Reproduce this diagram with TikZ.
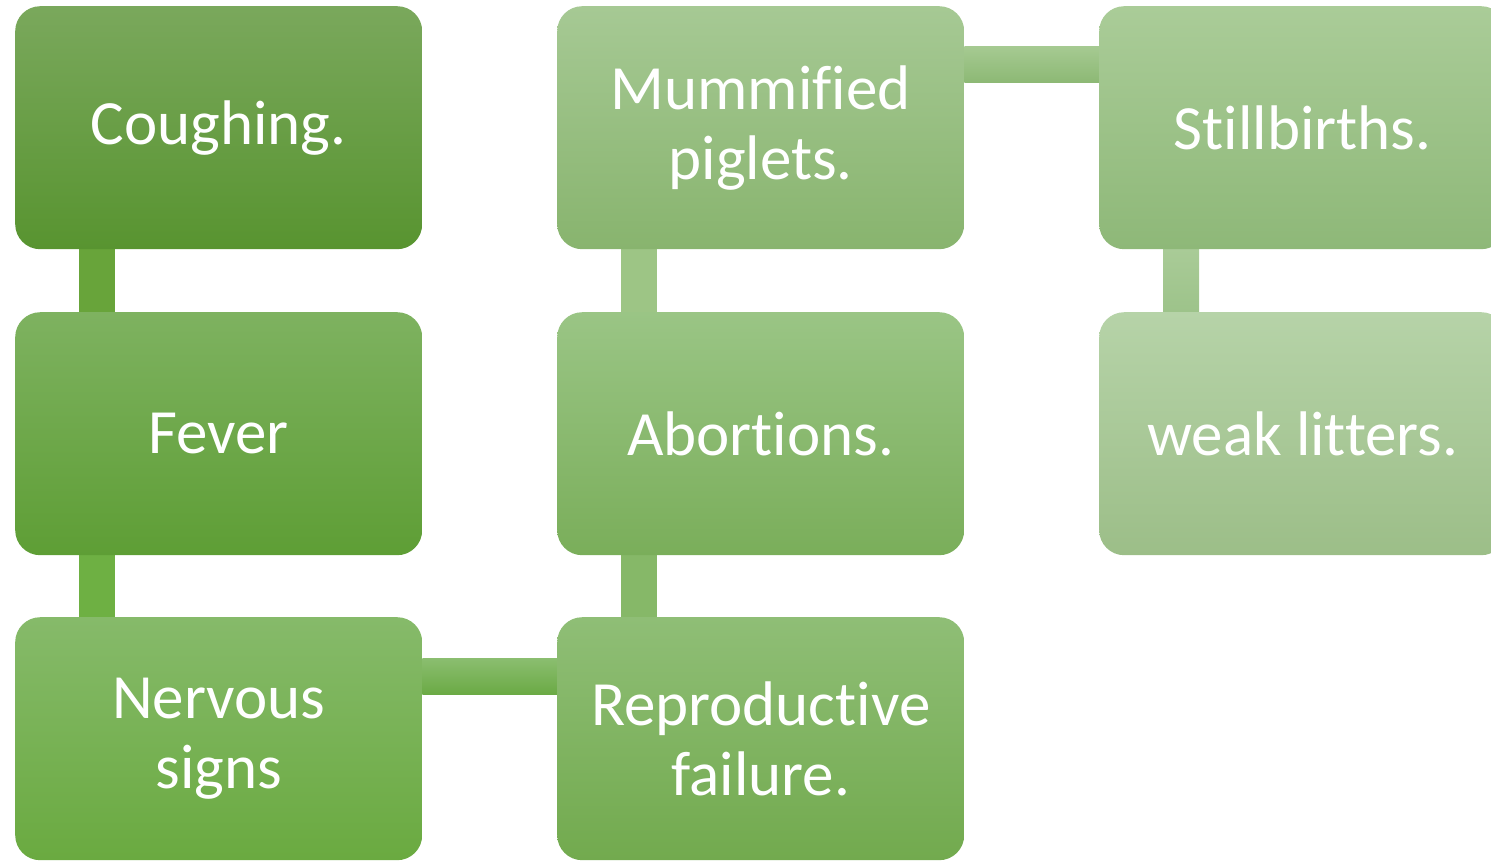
\documentclass[tikz,border=0pt]{standalone}
\usepackage{fontspec}
\setmainfont{Carlito}[Ligatures={NoCommon}]
\usetikzlibrary{backgrounds}
\definecolor{cAt}{HTML}{7AA85C}\definecolor{cAb}{HTML}{589430}
\definecolor{cBt}{HTML}{7EB260}\definecolor{cBb}{HTML}{5E9E35}
\definecolor{cCt}{HTML}{86BA6A}\definecolor{cCb}{HTML}{6AAA40}
\definecolor{rAt}{HTML}{8FBE76}\definecolor{rAb}{HTML}{72AA4E}
\definecolor{rBt}{HTML}{9AC585}\definecolor{rBb}{HTML}{7AAE5A}
\definecolor{rCt}{HTML}{A6C994}\definecolor{rCb}{HTML}{88B46E}
\definecolor{sAt}{HTML}{AACC98}\definecolor{sAb}{HTML}{8EB878}
\definecolor{sBt}{HTML}{B6D3A8}\definecolor{sBb}{HTML}{9CBE88}
\definecolor{lA}{HTML}{68A43A}\definecolor{lB}{HTML}{6EB043}
\definecolor{lC}{HTML}{9DC585}\definecolor{lD}{HTML}{86B868}
\definecolor{lE}{HTML}{A9CB97}\definecolor{lF}{HTML}{9DC38A}
\definecolor{hAt}{HTML}{8BBE70}\definecolor{hAb}{HTML}{6BAA45}
\definecolor{hBt}{HTML}{A6CA92}\definecolor{hBb}{HTML}{8DB975}
\tikzset{
  box/.style={rectangle, rounded corners=25pt, minimum width=407pt, minimum height=243pt,
    anchor=north west, text=white, align=center, inner sep=0pt,
    font=\fontsize{63}{70}\selectfont},
}
\begin{document}
\begin{tikzpicture}[x=1pt,y=-1pt]
\clip (0,0) rectangle (1491,860);
\useasboundingbox (0,0) rectangle (1491,860);
\node[box, top color=cAt, bottom color=cAb] (c1) at (15,6) {Coughing.};
\node[box, top color=cBt, bottom color=cBb] (c2) at (15,312) {Fever};
\node[box, top color=cCt, bottom color=cCb] (c3) at (15,617) {Nervous\\signs};
\node[box, top color=rAt, bottom color=rAb] (r1) at (557,617) {Reproductive\\failure.};
\node[box, top color=rBt, bottom color=rBb] (r2) at (557,312) {Abortions.};
\node[box, top color=rCt, bottom color=rCb] (r3) at (557,6) {Mummified\\piglets.};
\node[box, top color=sAt, bottom color=sAb] (s1) at (1099,6) {Stillbirths.};
\node[box, top color=sBt, bottom color=sBb] (s2) at (1099,312) {weak litters.};
\begin{pgfonlayer}{background}
\fill[lA] ([xshift=64pt]c1.south west) rectangle ([xshift=100pt]c2.north west);
\fill[lB] ([xshift=64pt]c2.south west) rectangle ([xshift=100pt]c3.north west);
\fill[lC] ([xshift=64pt]r3.south west) rectangle ([xshift=100pt]r2.north west);
\fill[lD] ([xshift=64pt]r2.south west) rectangle ([xshift=100pt]r1.north west);
\shade[top color=lE, bottom color=lF] ([xshift=64pt]s1.south west) rectangle ([xshift=100pt]s2.north west);
\shade[top color=hAt, bottom color=hAb] ([yshift=-41pt]c3.north east) rectangle ([yshift=-77pt]r1.north west);
\shade[top color=hBt, bottom color=hBb] ([yshift=-40pt]r3.north east) rectangle ([yshift=-76pt]s1.north west);
\end{pgfonlayer}
\end{tikzpicture}
\end{document}
